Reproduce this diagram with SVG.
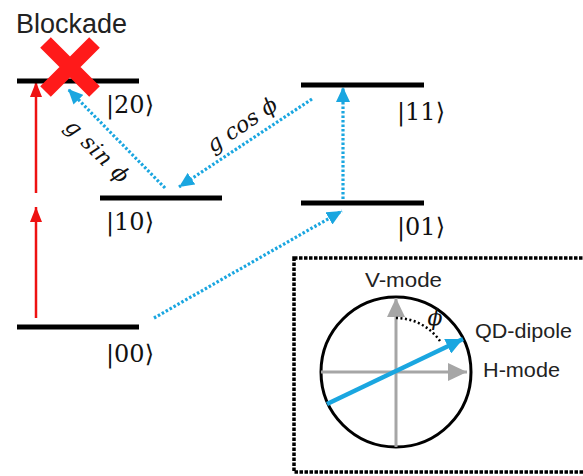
<svg xmlns="http://www.w3.org/2000/svg" width="583" height="476" viewBox="0 0 583 476">
<style>
.lvl{stroke:#000;stroke-width:5;}
.ket{font-family:"DejaVu Serif","DejaVu Sans",serif;font-size:24px;fill:#111;}
.lab{font-family:"Liberation Sans",Arial,sans-serif;font-size:21px;fill:#222;}
.math{font-family:"DejaVu Serif","Liberation Serif",serif;font-style:italic;font-size:22px;fill:#111;}
.blue{stroke:#1aa6e0;stroke-width:3.2;stroke-dasharray:2.5 2;fill:none;}
.red{stroke:#ee1111;stroke-width:2.5;fill:none;}
</style>
<defs>
<marker id="hb" markerUnits="userSpaceOnUse" markerWidth="16" markerHeight="14" refX="15" refY="7" orient="auto"><path d="M0,0 L15,7 L0,14 Z" fill="#1aa6e0"/></marker>
<marker id="hr" markerUnits="userSpaceOnUse" markerWidth="16" markerHeight="12" refX="15" refY="6" orient="auto"><path d="M0,0 L15,6 L0,12 Z" fill="#ee1111"/></marker>
<marker id="hg" markerUnits="userSpaceOnUse" markerWidth="20" markerHeight="18" refX="19" refY="9" orient="auto"><path d="M0,0 L19,9 L0,18 Z" fill="#a6a6a6"/></marker>
<marker id="hd" markerUnits="userSpaceOnUse" markerWidth="18" markerHeight="16" refX="17" refY="8" orient="auto"><path d="M0,0 L17,8 L0,16 Z" fill="#1aa6e0"/></marker>
</defs>

<g id="connectors">
<line class="red" x1="36" y1="318" x2="36" y2="207" marker-end="url(#hr)"/>
<line class="red" x1="36" y1="193" x2="36" y2="82" marker-end="url(#hr)"/>
<line class="blue" x1="165" y1="188" x2="68" y2="89" marker-end="url(#hb)"/>
<line class="blue" x1="312" y1="99" x2="179" y2="187" marker-end="url(#hb)"/>
<line class="blue" x1="154" y1="318" x2="342" y2="211" marker-end="url(#hb)"/>
<line class="blue" x1="343" y1="199" x2="343" y2="87" marker-end="url(#hb)"/>
</g>

<g id="level-20">
<line class="lvl" x1="17" y1="81" x2="139" y2="81"/>
<text class="ket" x="106" y="113">|20⟩</text>
</g>
<g id="level-10">
<line class="lvl" x1="100" y1="198" x2="222" y2="198"/>
<text class="ket" x="106" y="230">|10⟩</text>
</g>
<g id="level-11">
<line class="lvl" x1="301" y1="85" x2="424" y2="85"/>
<text class="ket" x="397" y="120">|11⟩</text>
</g>
<g id="level-01">
<line class="lvl" x1="301" y1="203" x2="424" y2="203"/>
<text class="ket" x="397" y="235">|01⟩</text>
</g>
<g id="level-00">
<line class="lvl" x1="17" y1="327" x2="139" y2="327"/>
<text class="ket" x="106" y="362">|00⟩</text>
</g>

<g id="blockade">
<text x="16" y="33" font-family="Liberation Sans,Arial,sans-serif" font-size="27" fill="#222">Blockade</text>
<path d="M45.5,42.5 L94.5,91.5 M94.5,42.5 L45.5,91.5" stroke="#ff1a1a" stroke-width="15"/>
</g>

<g id="labels">
<text class="math" transform="translate(97,151) rotate(45)" x="0" y="7" text-anchor="middle" textLength="80" lengthAdjust="spacing">g sin ϕ</text>
<text class="math" transform="translate(242,125) rotate(-34)" x="0" y="7" text-anchor="middle" textLength="80" lengthAdjust="spacing">g cos ϕ</text>
</g>

<g id="inset">
<rect x="294" y="258" width="300" height="214" fill="none" stroke="#000" stroke-width="3.5" stroke-dasharray="3.5 1.5"/>
<circle cx="396" cy="372" r="75" fill="none" stroke="#000" stroke-width="3"/>
<line x1="321" y1="372" x2="467" y2="372" stroke="#a6a6a6" stroke-width="3" marker-end="url(#hg)"/>
<line x1="396" y1="447" x2="396" y2="298" stroke="#a6a6a6" stroke-width="3" marker-end="url(#hg)"/>
<path d="M396,318 A54,54 0 0 1 440,341" fill="none" stroke="#000" stroke-width="2.5" stroke-dasharray="2 2.5"/>
<line x1="327" y1="404" x2="463" y2="339" stroke="#1aa6e0" stroke-width="4.5" marker-end="url(#hd)"/>
<text class="math" x="435" y="325" font-size="17" text-anchor="middle">ϕ</text>
<text class="lab" x="365" y="287" textLength="77" lengthAdjust="spacingAndGlyphs">V-mode</text>
<text class="lab" x="475" y="338" textLength="97" lengthAdjust="spacingAndGlyphs">QD-dipole</text>
<text class="lab" x="483" y="377" textLength="77" lengthAdjust="spacingAndGlyphs">H-mode</text>
</g>
</svg>
